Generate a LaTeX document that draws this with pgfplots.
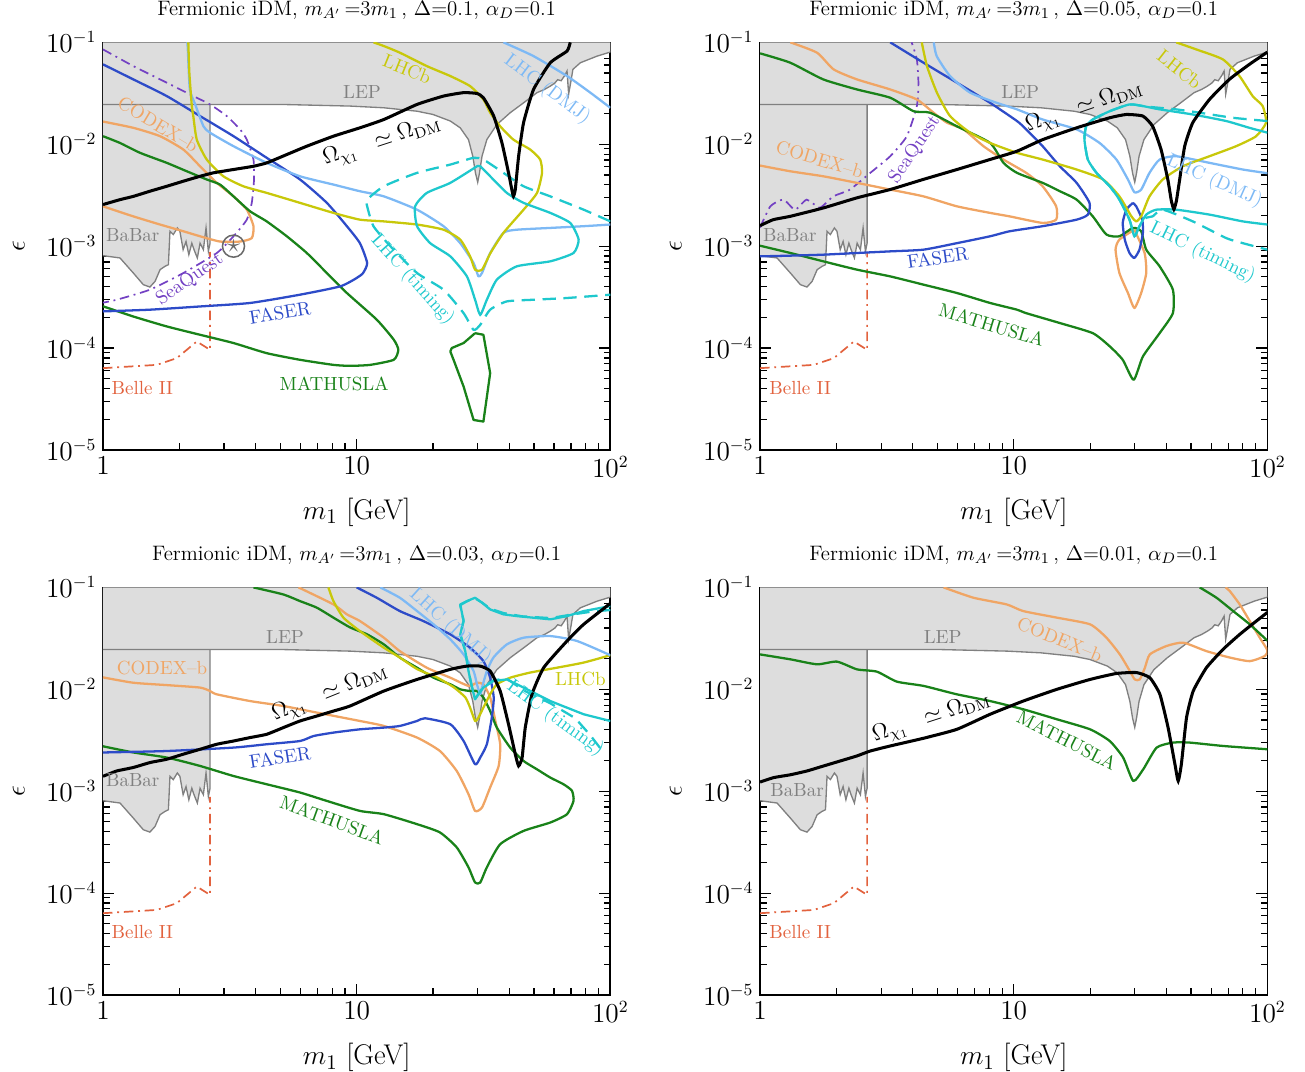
\documentclass[border=0pt]{standalone}
\usepackage{pgfplots}
\usepackage{pgfplotstable}
\pgfplotsset{compat=1.18}
\definecolor{cgrey}{RGB}{221,221,221}
\definecolor{cline}{RGB}{128,128,128}
\definecolor{cbelle}{RGB}{226,98,62}
\definecolor{cmath}{RGB}{25,130,25}
\definecolor{cfaser}{RGB}{45,75,200}
\definecolor{ccodex}{RGB}{240,165,100}
\definecolor{clhcb}{RGB}{200,200,10}
\definecolor{cdmj}{RGB}{125,185,245}
\definecolor{ctime}{RGB}{30,200,205}
\definecolor{csea}{RGB}{115,65,195}
\definecolor{cstar}{RGB}{105,105,105}

\pgfplotstableread{
m eps
1 0.1
1 8.07e-4
1.167 7.66e-4
1.317 5.45e-4
1.442 4.19e-4
1.531 3.97e-4
1.604 4.51e-4
1.679 5.88e-4
1.756 6.34e-4
1.811 6.58e-4
1.837 1.40e-3
1.893 1.30e-3
1.964 1.51e-3
2.01 1.40e-3
2.07 9.24e-4
2.125 1.11e-3
2.18 8.25e-4
2.24 1.07e-3
2.285 9.24e-4
2.355 7.66e-4
2.414 1.07e-3
2.487 9.24e-4
2.548 1.51e-3
2.603 8.89e-4
2.643 1.07e-3
2.643 0.0246
5 0.0246
9.42 0.0237
12.8 0.0228
17.3 0.0211
20.0 0.0196
23.4 0.0169
25.6 0.0145
27.6 0.0111
28.7 0.00763
29.4 0.00524
30.0 0.00424
30.5 0.00524
31.2 0.00763
32.6 0.0111
35.7 0.0156
40.3 0.0204
45.5 0.0255
51.4 0.0321
55.0 0.0345
58.0 0.0372
60.5 0.0400
62.0 0.0430
64.0 0.0420
66.0 0.0470
67.5 0.0523
68.5 0.0310
70.0 0.0420
71.2 0.0543
76.2 0.0631
88.7 0.0733
100 0.0803
100 0.1
}\greyfill

\pgfplotstableread{
m eps
1 0.0246
5 0.0246
9.42 0.0237
12.8 0.0228
17.3 0.0211
20.0 0.0196
23.4 0.0169
25.6 0.0145
27.6 0.0111
28.7 0.00763
29.4 0.00524
30.0 0.00424
30.5 0.00524
31.2 0.00763
32.6 0.0111
35.7 0.0156
40.3 0.0204
45.5 0.0255
51.4 0.0321
55.0 0.0345
58.0 0.0372
60.5 0.0400
62.0 0.0430
64.0 0.0420
66.0 0.0470
67.5 0.0523
68.5 0.0310
70.0 0.0420
71.2 0.0543
76.2 0.0631
88.7 0.0733
100 0.0803
}\lep

\pgfplotstableread{
m eps
1 8.07e-4
1.167 7.66e-4
1.317 5.45e-4
1.442 4.19e-4
1.531 3.97e-4
1.604 4.51e-4
1.679 5.88e-4
1.756 6.34e-4
1.811 6.58e-4
1.837 1.40e-3
1.893 1.30e-3
1.964 1.51e-3
2.01 1.40e-3
2.07 9.24e-4
2.125 1.11e-3
2.18 8.25e-4
2.24 1.07e-3
2.285 9.24e-4
2.355 7.66e-4
2.414 1.07e-3
2.487 9.24e-4
2.548 1.51e-3
2.603 8.89e-4
2.643 1.07e-3
2.643 0.0246
}\babar

\pgfplotstableread{
m eps
1 6.35e-5
1.629 6.84e-5
1.954 7.96e-5
2.343 1.16e-4
2.643 9.61e-5
2.643 8.8e-4
}\belle

\tikzset{
  cv/.style={line width=1.2pt, smooth, tension=0.35, line join=round},
  lab/.style={font=\fontsize{10}{12}\selectfont, inner sep=0pt},
  olab/.style={font=\fontsize{12}{14}\selectfont, inner sep=0pt, black},
  dd/.style={line width=0.9pt, dash pattern=on 5pt off 2.5pt on 1pt off 2.5pt},
  dsh/.style={dash pattern=on 7pt off 4pt},
}

\pgfplotsset{
  every axis/.append style={
    xmode=log, ymode=log, xmin=1, xmax=100, ymin=1e-5, ymax=1e-1,
    scale only axis, width=267pt, height=214.5pt, anchor=south west,
    xtick={1,10,100}, xticklabels={$1$,$10$,$10^2$},
    ytick={1e-5,1e-4,1e-3,1e-2,1e-1},
    yticklabels={$10^{-5}$,$10^{-4}$,$10^{-3}$,$10^{-2}$,$10^{-1}$},
    tick label style={font=\fontsize{13.5}{16}\selectfont},
    xlabel={$m_1$\ [GeV]}, ylabel={$\epsilon$},
    label style={font=\fontsize{15}{18}\selectfont},
    x label style={at={(axis description cs:0.5,-0.154)}, anchor=center},
    y label style={at={(axis description cs:-0.166,0.5)}, anchor=center},
    title style={font=\fontsize{11}{13}\selectfont, at={(axis description cs:0.5,1)}, anchor=center, yshift=11pt},
    major tick length=6pt, minor tick length=3.5pt,
    axis line style={line width=0.9pt},
    tick style={black, line width=0.6pt},
    tick align=inside,
  },
}

\begin{document}
\begin{tikzpicture}
\useasboundingbox (0,0) rectangle (686.8pt,-563.7pt);

% ================= Top-left: Delta = 0.1 =================
\begin{axis}[at={(54.2pt,-236.8pt)},
  title={Fermionic iDM, $m_{A'}$\,=3$m_1$\,, $\Delta$=0.1, $\alpha_D$=0.1}]
\addplot[fill=cgrey, draw=none] table {\greyfill};
\addplot[cline, line width=0.7pt] table {\lep};
\addplot[cline, line width=0.7pt] table {\babar};
\addplot[cbelle, dd] table {\belle};
% SeaQuest
\addplot[csea, dd, smooth, tension=0.35] coordinates {(1,0.0853)(1.317,0.0585)(1.784,0.0402)(2.27,0.0297)(2.643,0.0246)(3.076,0.0189)(3.47,0.0140)(3.69,0.0111)(3.92,7.08e-3)(3.94,4.51e-3)(3.86,2.66e-3)(3.69,1.82e-3)(3.27,1.25e-3)(2.81,8.57e-4)(2.074,5.45e-4)(1.531,3.74e-4)(1.133,2.98e-4)(1,2.79e-4)};
% CODEX-b
\addplot[ccodex, cv] coordinates {(1,0.0167)(1.317,0.0145)(1.679,0.0120)(2.074,8.87e-3)(2.414,6.08e-3)(2.81,4.18e-3)(3.27,3.08e-3)(3.69,2.28e-3)(3.92,1.57e-3)(3.86,1.20e-3)(3.47,1.11e-3)(2.894,1.11e-3)(2.414,1.25e-3)(2.074,1.40e-3)(1.679,1.63e-3)(1.317,1.96e-3)(1,2.46e-3)};
% MATHUSLA
\addplot[cmath, cv] coordinates {(1,0.0120)(1.167,0.0103)(1.40,8.24e-3)(1.784,6.57e-3)(2.14,5.43e-3)(2.565,4.51e-3)(2.894,4.02e-3)(3.27,3.08e-3)(3.80,2.20e-3)(4.42,1.75e-3)(5.305,1.25e-3)(6.36,8.57e-4)(7.63,5.45e-4)(9.15,3.47e-4)(12.0,1.90e-4)(14.0,1.21e-4)(14.6,9.61e-5)(14.0,7.67e-5)(11.3,6.84e-5)(9.42,6.69e-5)(8.10,6.84e-5)(5.98,7.67e-5)(4.42,8.91e-5)(3.27,1.12e-4)(2.414,1.35e-4)(1.784,1.63e-4)(1.317,2.04e-4)(1,2.57e-4)};
\addplot[cmath, line width=1.2pt, line join=round] coordinates {(29.3,1.40e-4)(31.6,1.35e-4)(33.6,5.67e-5)(31.6,1.90e-5)(28.9,1.97e-5)(26.4,4.19e-5)(24.1,7.67e-5)(23.4,9.25e-5)(23.7,1.0e-4)(26.4,1.12e-4)(29.3,1.40e-4)};
% FASER
\addplot[cfaser, cv] coordinates {(1,0.0608)(1.317,0.0433)(1.784,0.0297)(2.414,0.0189)(3.27,0.0120)(4.42,7.36e-3)(5.98,4.51e-3)(7.63,2.66e-3)(9.15,1.57e-3)(10.3,1.07e-3)(11.0,6.84e-4)(10.6,5.45e-4)(10.0,4.87e-4)(8.61,4.03e-4)(5.98,3.34e-4)(3.80,2.77e-4)(2.414,2.56e-4)(1.531,2.38e-4)(1,2.29e-4)};
% LHC DMJ
\addplot[cdmj, cv] coordinates {(2.15,0.1)(2.16,0.0853)(2.20,0.0345)(2.31,0.0246)(2.49,0.0150)(2.64,0.0130)(3.27,9.57e-3)(4.42,6.57e-3)(5.98,4.85e-3)(8.10,4.02e-3)(10.3,3.46e-3)(12.8,3.08e-3)(17.3,2.28e-3)(22.0,1.57e-3)(25.6,1.07e-3)(28.9,6.84e-4)(30.2,5.05e-4)(31.2,5.45e-4)(33.6,8.57e-4)(37.9,1.35e-3)(42.8,1.45e-3)(58.0,1.51e-3)(78.5,1.57e-3)(100,1.63e-3)};
\addplot[cdmj, cv] coordinates {(37.9,0.1)(49.8,0.0733)(67.5,0.0467)(83.4,0.0321)(100,0.0228)};
% LHCb
\addplot[clhcb, cv] coordinates {(2.170,0.1)(2.19,0.0504)(2.24,0.0237)(2.27,0.0189)(2.343,0.0111)(2.565,7.08e-3)(2.983,4.85e-3)(3.577,3.87e-3)(4.424,3.33e-3)(5.98,2.66e-3)(8.10,2.12e-3)(10.3,1.82e-3)(12.8,1.75e-3)(17.3,1.63e-3)(22.0,1.45e-3)(25.6,1.16e-3)(28.0,7.94e-4)(29.3,5.88e-4)(31.2,5.88e-4)(33.7,8.57e-4)(37.9,1.35e-3)(45.5,2.28e-3)(51.4,3.33e-3)(53.8,5.24e-3)(52.9,7.08e-3)(48.3,8.88e-3)(41.5,0.0111)(36.8,0.0150)(33.6,0.0204)(31.6,0.0275)(28.0,0.0372)(23.4,0.0467)(18.9,0.0585)(14.8,0.0792)(12.8,0.092)(11.65,0.1)};
% LHC timing
\addplot[ctime, line width=1.2pt, smooth, tension=0.35] coordinates {(29.8,6.08e-3)(23.4,4.18e-3)(18.9,3.33e-3)(17.0,2.46e-3)(17.3,1.57e-3)(19.5,1.07e-3)(23.4,7.94e-4)(27.2,5.05e-4)(29.3,2.98e-4)(30.7,2.12e-4)(32.6,2.98e-4)(35.7,4.69e-4)(42.8,6.34e-4)(58.0,7.10e-4)(71.6,8.57e-4)(75.0,1.16e-3)(69.5,1.69e-3)(58.0,2.12e-3)(45.5,2.66e-3)(39.1,3.33e-3)(33.6,4.85e-3)(30.7,6.08e-3)(29.8,6.08e-3)};
\addplot[ctime, line width=1.2pt, dsh, smooth, tension=0.35] coordinates {(100,1.75e-3)(78.5,2.28e-3)(58.0,3.08e-3)(45.5,3.87e-3)(37.9,5.24e-3)(31.6,7.08e-3)(28.9,7.36e-3)(23.4,6.32e-3)(17.3,5.24e-3)(12.8,3.87e-3)(11.0,2.86e-3)(11.0,2.46e-3)(11.65,1.57e-3)(13.6,9.95e-4)(17.3,5.45e-4)(22.0,3.74e-4)(26.4,2.20e-4)(28.9,1.51e-4)(30.7,1.69e-4)(33.6,2.38e-4)(39.1,2.87e-4)(49.8,2.98e-4)(67.5,3.10e-4)(100,3.34e-4)};
% relic line
\addplot[black, line width=1.6pt, smooth, tension=0.3] coordinates {(1,2.56e-3)(1.167,2.86e-3)(1.317,3.08e-3)(1.531,3.46e-3)(1.784,3.87e-3)(2.074,4.34e-3)(2.414,4.85e-3)(2.723,5.24e-3)(3.266,5.65e-3)(3.916,6.08e-3)(4.424,6.57e-3)(5.305,7.93e-3)(6.36,9.57e-3)(8.10,0.0120)(10.3,0.0145)(12.8,0.0175)(17.3,0.0246)(22.0,0.0297)(26.4,0.0321)(29.8,0.0315)(31.6,0.0286)(34.7,0.0189)(37.4,0.0103)(39.7,0.00524)(40.9,3.59e-3)(41.5,3.08e-3)(42.2,3.59e-3)(43.5,0.00763)(45.5,0.0163)(49.8,0.0345)(58.0,0.0631)(67.5,0.0821)(69.5,0.1)};
% benchmark
\addplot[only marks, mark=o, mark size=5.8pt, cstar, line width=0.8pt] coordinates {(3.27,1.0e-3)};
\addplot[only marks, cstar, mark=text, text mark={\textcolor{cstar}{\Large$\star$}}] coordinates {(3.27,1.0e-3)};
% labels
\node[lab, cline] at (axis cs:10.5,0.0323) {LEP};
\node[lab, cline] at (axis cs:1.31,1.27e-3) {BaBar};
\node[lab, cbelle] at (axis cs:1.43,4.07e-5) {Belle II};
\node[lab, ccodex, rotate=-31] at (axis cs:1.65,0.0156) {CODEX--b};
\node[lab, csea, rotate=35] at (axis cs:2.20,4.69e-4) {SeaQuest};
\node[lab, cfaser, rotate=9] at (axis cs:4.99,2.22e-4) {FASER};
\node[lab, cmath] at (axis cs:8.15,4.46e-5) {MATHUSLA};
\node[lab, clhcb, rotate=-22] at (axis cs:15.8,0.0543) {LHCb};
\node[lab, cdmj, rotate=-37] at (axis cs:56.4,0.0345) {LHC (DMJ)};
\node[lab, ctime, rotate=-48] at (axis cs:16.6,4.69e-4) {LHC (timing)};
\node[olab, rotate=18] at (axis cs:12.6,0.0106) {$\Omega_{\chi_1}\;\;\simeq\Omega_{\rm DM}$};
\end{axis}

% ================= Top-right: Delta = 0.05 =================
\begin{axis}[at={(400.0pt,-236.8pt)},
  title={Fermionic iDM, $m_{A'}$\,=3$m_1$\,, $\Delta$=0.05, $\alpha_D$=0.1}]
\addplot[fill=cgrey, draw=none] table {\greyfill};
\addplot[cline, line width=0.7pt] table {\lep};
\addplot[cline, line width=0.7pt] table {\babar};
\addplot[cbelle, dd] table {\belle};
% SeaQuest
\addplot[csea, dd, smooth, tension=0.35] coordinates {(1,1.52e-3)(1.098,2.46e-3)(1.236,2.86e-3)(1.374,2.28e-3)(1.527,2.86e-3)(1.722,2.39e-3)(1.944,3.08e-3)(2.26,3.59e-3)(2.72,5.24e-3)(3.26,7.63e-3)(3.79,0.0120)(4.15,0.0237)(4.21,0.0402)(4.15,0.0681)(3.96,0.1)};
% CODEX-b
\addplot[ccodex, cv] coordinates {(1.316,0.1)(1.677,0.0792)(1.95,0.0543)(2.41,0.0433)(3.26,0.0345)(4.15,0.0275)(4.83,0.0204)(5.45,0.0163)(6.34,0.0140)(7.60,9.57e-3)(9.11,7.08e-3)(11.2,5.24e-3)(13.0,3.87e-3)(14.7,2.46e-3)(14.7,1.82e-3)(13.0,1.69e-3)(9.64,1.96e-3)(8.07,2.12e-3)(5.97,2.46e-3)(4.41,3.08e-3)(3.26,3.59e-3)(2.41,4.18e-3)(1.775,4.85e-3)(1.316,5.43e-3)(1,6.18e-3)};
\addplot[ccodex, cv] coordinates {(29.9,1.45e-3)(32.8,8.57e-4)(33.3,5.45e-4)(31.8,3.47e-4)(29.9,2.47e-4)(28.2,3.47e-4)(26.1,5.45e-4)(25.2,9.24e-4)(26.1,1.16e-3)(29.9,1.45e-3)};
% MATHUSLA
\addplot[cmath, cv] coordinates {(1,0.078)(1.316,0.0631)(1.775,0.0433)(2.41,0.0345)(3.26,0.0286)(4.03,0.0211)(4.68,0.0204)(5.97,0.0150)(8.07,0.0103)(9.11,6.57e-3)(10.3,5.24e-3)(13.0,4.18e-3)(15.2,3.46e-3)(17.7,2.86e-3)(20.5,1.96e-3)(23.2,1.30e-3)(26.1,1.25e-3)(29.5,1.51e-3)(31.8,1.40e-3)(33.3,9.24e-4)(37.6,6.34e-4)(42.4,3.74e-4)(42.4,2.20e-4)(37.6,1.40e-4)(32.3,8.26e-5)(29.7,4.88e-5)(26.9,7.67e-5)(23.9,1.04e-4)(20.5,1.40e-4)(15.2,1.76e-4)(11.2,2.20e-4)(10.3,2.38e-4)(8.07,2.77e-4)(5.97,3.47e-4)(4.41,4.19e-4)(3.26,5.05e-4)(2.41,5.88e-4)(1.775,7.10e-4)(1.316,8.57e-4)(1,1.01e-3)};
% FASER
\addplot[cfaser, cv] coordinates {(3.26,0.1)(4.41,0.0631)(5.97,0.0402)(8.07,0.0255)(10.3,0.0169)(11.2,0.0140)(13.0,9.57e-3)(15.2,6.08e-3)(17.7,4.18e-3)(19.9,2.66e-3)(19.6,2.04e-3)(17.7,1.82e-3)(13.0,1.57e-3)(9.64,1.40e-3)(8.07,1.25e-3)(5.97,1.07e-3)(4.41,9.24e-4)(3.26,8.89e-4)(2.41,8.57e-4)(1.775,8.25e-4)(1.316,8.07e-4)(1,7.94e-4)};
\addplot[cfaser, cv] coordinates {(29.5,2.66e-3)(30.4,2.46e-3)(32.1,1.82e-3)(32.3,1.35e-3)(31.3,9.24e-4)(29.9,7.66e-4)(28.6,8.57e-4)(27.4,1.16e-3)(26.9,1.69e-3)(27.8,2.28e-3)(29.5,2.66e-3)};
% LHC DMJ
\addplot[cdmj, cv] coordinates {(4.84,0.1)(4.97,0.0733)(5.61,0.0467)(6.73,0.0321)(8.57,0.0255)(10.3,0.0220)(13.0,0.0175)(17.7,0.0140)(21.8,0.0103)(25.4,7.08e-3)(28.2,4.51e-3)(29.9,3.38e-3)(31.8,3.59e-3)(34.3,5.24e-3)(37.6,7.08e-3)(43.7,7.63e-3)(59.1,6.57e-3)(80.0,5.65e-3)(100,5.2e-3)};
% LHCb
\addplot[clhcb, cv] coordinates {(4.34,0.1)(4.55,0.0585)(4.98,0.0321)(5.61,0.0189)(6.73,0.0130)(8.07,0.0103)(10.3,8.24e-3)(13.0,7.08e-3)(17.7,5.65e-3)(22.5,4.51e-3)(26.1,3.08e-3)(29.1,1.96e-3)(30.4,1.75e-3)(31.8,1.96e-3)(34.3,3.08e-3)(38.7,4.51e-3)(46.4,6.08e-3)(59.1,7.63e-3)(75.3,9.57e-3)(90.3,0.0120)(98.8,0.0163)(95.8,0.0237)(87.5,0.0297)(77.6,0.0467)(66.7,0.0681)(52.4,0.0853)(43.7,0.1)};
% LHC timing
\addplot[ctime, line width=1.2pt, smooth, tension=0.35] coordinates {(100,0.0130)(84.9,0.0145)(68.8,0.0169)(50.8,0.0196)(37.6,0.0220)(32.3,0.0237)(28.6,0.0246)(23.9,0.0211)(20.5,0.0175)(19.3,0.0150)(19.0,0.0111)(19.6,7.08e-3)(21.2,5.24e-3)(23.9,3.87e-3)(26.1,2.86e-3)(28.6,1.82e-3)(29.9,1.25e-3)(31.3,1.57e-3)(33.3,2.04e-3)(36.5,2.28e-3)(43.7,2.28e-3)(59.1,2.04e-3)(80.0,1.75e-3)(100,1.63e-3)};
\addplot[ctime, line width=1.2pt, dsh, smooth, tension=0.35] coordinates {(100,0.0169)(73.0,0.0182)(54.0,0.0204)(43.7,0.0220)(36.0,0.0230)(32.3,0.0237)(28.6,0.0246)(23.9,0.0211)(20.5,0.0175)(19.3,0.0150)(19.0,0.0111)(19.6,7.08e-3)(21.2,5.24e-3)(23.9,3.87e-3)(26.1,2.86e-3)(28.6,1.82e-3)(29.9,1.25e-3)(31.3,1.57e-3)(33.3,1.9e-3)(35.3,1.96e-3)(38.7,2.28e-3)(50.8,1.75e-3)(68.8,1.20e-3)(80.0,1.07e-3)(100,9.24e-4)};
% relic line
\addplot[black, line width=1.6pt, smooth, tension=0.3] coordinates {(1,1.59e-3)(1.128,1.82e-3)(1.312,1.96e-3)(1.775,2.37e-3)(2.41,2.98e-3)(3.25,3.59e-3)(4.39,4.51e-3)(5.97,5.65e-3)(8.05,7.08e-3)(10.3,8.55e-3)(13.0,0.0111)(17.7,0.0145)(23.9,0.0182)(27.8,0.0196)(32.3,0.0189)(35.3,0.0150)(38.1,8.88e-3)(40.5,4.51e-3)(41.8,2.8e-3)(42.8,2.30e-3)(43.8,2.8e-3)(45.1,4.51e-3)(47.2,9.57e-3)(50.8,0.0163)(59.1,0.0275)(70.8,0.0433)(84.9,0.0608)(100,0.0803)};
% labels
\node[lab, cline] at (axis cs:10.6,0.0323) {LEP};
\node[lab, cline] at (axis cs:1.31,1.27e-3) {BaBar};
\node[lab, cbelle] at (axis cs:1.44,4.07e-5) {Belle II};
\node[lab, ccodex, rotate=-17] at (axis cs:1.72,7.08e-3) {CODEX--b};
\node[lab, csea, rotate=56] at (axis cs:4.07,8.88e-3) {SeaQuest};
\node[lab, cfaser, rotate=8] at (axis cs:5.02,7.71e-4) {FASER};
\node[lab, cmath, rotate=-17] at (axis cs:8.19,1.69e-4) {MATHUSLA};
\node[lab, clhcb, rotate=-38] at (axis cs:45.0,0.0543) {LHCb};
\node[lab, cdmj, rotate=-24] at (axis cs:61.8,4.31e-3) {LHC (DMJ)};
\node[lab, ctime, rotate=-26] at (axis cs:55.5,8.63e-4) {LHC (timing)};
\node[olab, rotate=19] at (axis cs:19.0,0.0230) {$\Omega_{\chi_1}\;\;\simeq\Omega_{\rm DM}$};
\end{axis}

% ================= Bottom-left: Delta = 0.03 =================
\begin{axis}[at={(54.2pt,-523.65pt)},
  title={Fermionic iDM, $m_{A'}$\,=3$m_1$\,, $\Delta$=0.03, $\alpha_D$=0.1}]
\addplot[fill=cgrey, draw=none] table {\greyfill};
\addplot[cline, line width=0.7pt] table {\lep};
\addplot[cline, line width=0.7pt] table {\babar};
\addplot[cbelle, dd] table {\belle};
% CODEX-b
\addplot[ccodex, cv] coordinates {(5.9,0.1)(8.10,0.0681)(9.15,0.0544)(10.3,0.0468)(12.8,0.0321)(14.8,0.0237)(18.9,0.0163)(23.4,0.0130)(27.6,0.0108)(29.8,0.0116)(31.6,0.0112)(33.6,8.35e-3)(35.2,4.93e-3)(36.8,2.89e-3)(36.3,1.77e-3)(33.6,1.09e-3)(31.2,6.92e-4)(29.3,6.41e-4)(27.6,9.35e-4)(24.8,1.58e-3)(21.3,2.48e-3)(17.3,3.36e-3)(12.8,4.37e-3)(10.3,4.89e-3)(6.97,5.91e-3)(5.14,6.86e-3)(3.80,7.67e-3)(2.81,8.93e-3)(2.643,9.62e-3)(2.414,0.0104)(1.784,0.0110)(1.317,0.0116)(1,0.0131)};
% MATHUSLA
\addplot[cmath, cv] coordinates {(1,2.76e-3)(1.317,2.40e-3)(1.784,2.14e-3)(2.414,1.77e-3)(3.27,1.41e-3)(4.42,1.17e-3)(5.98,9.71e-4)(7.63,8.03e-4)(10.3,6.41e-4)(12.8,5.95e-4)(17.3,4.75e-4)(21.3,3.94e-4)(24.8,2.81e-4)(27.6,1.79e-4)(29.3,1.27e-4)(30.7,1.27e-4)(32.6,1.79e-4)(36.8,3.02e-4)(45.5,4.08e-4)(58.0,4.93e-4)(67.5,5.95e-4)(71.6,8.03e-4)(70.6,1.01e-3)(65.4,1.17e-3)(58.0,1.36e-3)(51.4,1.64e-3)(45.5,1.98e-3)(40.3,2.68e-3)(35.7,4.21e-3)(33.6,6.12e-3)(31.6,8.29e-3)(29.8,9.62e-3)(28.0,9.62e-3)(25.6,0.0100)(23.4,0.0112)(20.1,0.0130)(17.3,0.0163)(14.8,0.0205)(12.8,0.0276)(11.0,0.0346)(9.42,0.0405)(8.10,0.0505)(6.97,0.0632)(5.98,0.0734)(5.14,0.0853)(3.92,0.1)};
% FASER
\addplot[cfaser, cv] coordinates {(1,2.40e-3)(1.784,2.48e-3)(3.27,2.68e-3)(4.42,2.89e-3)(5.98,3.11e-3)(6.76,3.48e-3)(8.10,3.76e-3)(10.3,4.05e-3)(12.8,4.21e-3)(14.8,4.37e-3)(17.3,4.89e-3)(18.6,5.20e-3)(23.4,4.54e-3)(26.4,3.11e-3)(29.3,1.84e-3)(30.7,2.14e-3)(32.6,2.89e-3)(34.1,5.28e-3)(34.7,8.29e-3)(33.6,0.0130)(31.6,0.0189)(28.0,0.0256)(23.4,0.0346)(18.3,0.0468)(14.8,0.0586)(12.0,0.0792)(10.0,0.1)};
% LHCb
\addplot[clhcb, cv] coordinates {(7.74,0.1)(8.10,0.0734)(8.87,0.0505)(10.3,0.0373)(12.8,0.0256)(14.8,0.0205)(17.3,0.0158)(20.7,0.0131)(24.1,0.0105)(26.8,8.35e-3)(28.0,6.62e-3)(29.3,4.89e-3)(30.2,5.28e-3)(31.6,6.62e-3)(33.6,8.93e-3)(35.7,0.0112)(40.3,0.0130)(48.3,0.0146)(61.6,0.0163)(78.5,0.0183)(100,0.0216)};
% LHC DMJ
\addplot[cdmj, cv] coordinates {(12.4,0.1)(14.8,0.0792)(17.3,0.0586)(20.1,0.0434)(23.4,0.0309)(26.4,0.0220)(28.9,0.0151)(29.8,0.0112)(30.7,8.93e-3)(31.2,0.0104)(32.6,0.0151)(34.6,0.0205)(39.1,0.0276)(45.5,0.0321)(58.0,0.0333)(73.9,0.0298)(100,0.0216)};
% LHC timing
\addplot[ctime, line width=1.2pt, line join=round] coordinates {(100,0.0656)(78.5,0.0586)(67.5,0.0523)(58.0,0.0486)(42.8,0.0523)(37.9,0.0544)(33.6,0.0608)(31.2,0.0708)(29.3,0.0792)(27.2,0.0734)(25.6,0.0681)(26.4,0.0468)(25.6,0.0346)(26.8,0.0237)(27.6,0.0151)(28.5,0.0104)(29.3,7.98e-3)(30.2,8.93e-3)(31.6,0.0104)(34.7,0.0121)(39.1,0.0125)(45.5,0.0104)(58.0,7.67e-3)(78.5,5.69e-3)(100,4.89e-3)};
\addplot[ctime, line width=1.2pt, dsh, line join=round] coordinates {(100,0.060)(85,0.058)(70,0.054)(58.0,0.050)(45,0.052)(37.9,0.056)(33.6,0.062)(31.2,0.071)(29.3,0.078)(27.2,0.073)(25.6,0.067)(26.4,0.047)(25.6,0.035)(26.8,0.024)(27.6,0.015)(28.5,0.0105)(29.3,8.1e-3)(30.2,9.0e-3)(31.6,0.0106)(34.7,0.0123)(39.1,0.0127)(45.5,9.77e-3)(58.0,7.29e-3)(72.8,5.20e-3)(83.4,3.54e-3)(91.3,2.64e-3)};
% relic line
\addplot[black, line width=1.6pt, smooth, tension=0.3] coordinates {(1,1.40e-3)(1.133,1.58e-3)(1.317,1.71e-3)(1.531,1.91e-3)(1.784,2.06e-3)(2.074,2.31e-3)(2.414,2.58e-3)(2.81,2.89e-3)(3.27,3.11e-3)(3.80,3.36e-3)(4.42,3.62e-3)(5.14,4.21e-3)(5.98,4.89e-3)(6.97,5.47e-3)(8.10,6.12e-3)(9.42,6.86e-3)(12.8,9.62e-3)(17.3,0.0125)(23.4,0.0157)(27.2,0.0169)(30.7,0.0169)(33.6,0.0151)(36.8,9.62e-3)(39.7,4.54e-3)(42.2,2.31e-3)(43.5,1.77e-3)(44.9,2.14e-3)(46.2,4.21e-3)(49.1,8.93e-3)(54.6,0.0163)(67.5,0.0298)(78.5,0.0434)(100,0.0697)};
% labels
\node[lab, cline] at (axis cs:5.22,0.0324) {LEP};
\node[lab, cline] at (axis cs:1.31,1.28e-3) {BaBar};
\node[lab, cbelle] at (axis cs:1.43,4.15e-5) {Belle II};
\node[lab, ccodex] at (axis cs:1.71,0.0161) {CODEX--b};
\node[lab, cfaser, rotate=9] at (axis cs:4.99,2.15e-3) {FASER};
\node[lab, cmath, rotate=-20] at (axis cs:8.0,5.20e-4) {MATHUSLA};
\node[lab, clhcb] at (axis cs:76.2,0.0125) {LHCb};
\node[lab, cdmj, rotate=-42] at (axis cs:23.4,0.0415) {LHC (DMJ)};
\node[lab, ctime, rotate=-36] at (axis cs:60.7,5.20e-3) {LHC (timing)};
\node[olab, rotate=22] at (axis cs:7.86,9.14e-3) {$\Omega_{\chi_1}\;\;\simeq\Omega_{\rm DM}$};
\end{axis}

% ================= Bottom-right: Delta = 0.01 =================
\begin{axis}[at={(400.0pt,-523.65pt)},
  title={Fermionic iDM, $m_{A'}$\,=3$m_1$\,, $\Delta$=0.01, $\alpha_D$=0.1}]
\addplot[fill=cgrey, draw=none] table {\greyfill};
\addplot[cline, line width=0.7pt] table {\lep};
\addplot[cline, line width=0.7pt] table {\babar};
\addplot[cbelle, dd] table {\belle};
% CODEX-b
\addplot[ccodex, cv] coordinates {(5.29,0.1)(6.94,0.0792)(9.38,0.0681)(10.9,0.0586)(14.8,0.0505)(20.0,0.0434)(23.2,0.0321)(26.2,0.0220)(28.7,0.0151)(30.0,0.0125)(31.4,0.0125)(32.9,0.0163)(34.4,0.0220)(40.0,0.0266)(46.6,0.0287)(57.5,0.0237)(71.1,0.0205)(85.2,0.0189)(97.6,0.0212)(100,0.0241)(93.3,0.0321)(85.2,0.0468)(77.8,0.0681)(71.1,0.092)(68.4,0.1)};
% MATHUSLA
\addplot[cmath, cv] coordinates {(1,0.0220)(1.316,0.0197)(1.677,0.0176)(2.01,0.0187)(2.41,0.0157)(2.89,0.0149)(3.46,0.0119)(4.41,0.0108)(5.97,8.93e-3)(8.07,7.67e-3)(10.9,6.37e-3)(14.8,5.08e-3)(20.0,4.05e-3)(23.9,3.11e-3)(27.0,2.14e-3)(29.6,1.26e-3)(32.4,1.64e-3)(36.6,2.68e-3)(42.5,3.00e-3)(49.4,3.00e-3)(66.9,2.78e-3)(100,2.58e-3)};
\addplot[cmath, cv] coordinates {(54.1,0.1)(63.0,0.0792)(73.3,0.0586)(85.2,0.0434)(100,0.0300)};
% relic line
\addplot[black, line width=1.6pt, smooth, tension=0.3] coordinates {(1,1.23e-3)(1.132,1.36e-3)(1.316,1.45e-3)(1.531,1.58e-3)(1.781,1.77e-3)(2.07,1.98e-3)(2.41,2.22e-3)(2.72,2.48e-3)(3.26,2.78e-3)(4.41,3.31e-3)(5.97,4.05e-3)(8.07,5.69e-3)(10.9,7.67e-3)(14.8,0.0100)(20.0,0.0125)(25.4,0.0143)(30.5,0.0146)(34.4,0.0130)(37.7,8.93e-3)(40.6,4.21e-3)(43.2,1.84e-3)(44.5,1.26e-3)(45.8,1.84e-3)(48.0,5.28e-3)(51.0,9.62e-3)(57.5,0.0163)(66.9,0.0247)(77.8,0.0346)(90.5,0.0468)(100,0.0569)};
% labels
\node[lab, cline] at (axis cs:5.25,0.0324) {LEP};
\node[lab, cline] at (axis cs:1.40,1.02e-3) {BaBar};
\node[lab, cbelle] at (axis cs:1.44,4.15e-5) {Belle II};
\node[lab, ccodex, rotate=-22] at (axis cs:15.2,0.0309) {CODEX--b};
\node[lab, cmath, rotate=-27] at (axis cs:16.2,3.16e-3) {MATHUSLA};
\node[olab, rotate=18] at (axis cs:4.75,5.20e-3) {$\Omega_{\chi_1}\;\;\simeq\Omega_{\rm DM}$};
\end{axis}
\end{tikzpicture}
\end{document}
